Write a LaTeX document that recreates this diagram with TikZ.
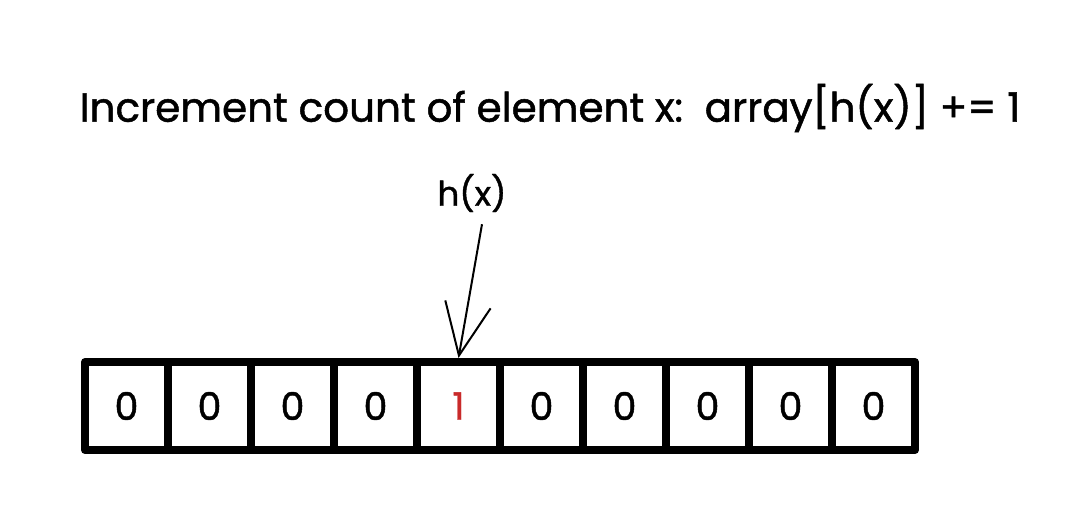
\documentclass[tikz,border=0pt]{standalone}
\usepackage{fontspec}
\setmainfont{Poppins}[FakeBold=1.2]
\usetikzlibrary{arrows.meta,positioning}
\definecolor{cellred}{HTML}{C92A2A}

\begin{document}
\begin{tikzpicture}[x=1pt,y=-1pt]
\tikzset{
  cellnode/.style={draw,line width=8pt,line join=round,minimum width=83pt,minimum height=88pt,inner sep=0pt,font=\fontsize{38}{42}\selectfont},
  labelnode/.style={inner sep=0pt,font=\fontsize{34}{40}\selectfont},
  titlenode/.style={inner sep=0pt,font=\fontsize{40.5}{46}\selectfont},
  pointer/.style={-{Straight Barb[length=52pt,width=46pt,line width=2pt]},line width=2pt}
}
\useasboundingbox[fill=white] (0,0) rectangle (1068,524);
\node[titlenode] (n_title) at (550,108) {Increment count of element x:\ \ array[h(x)] += 1};
\node[labelnode] (n_hx) at (472,193) {h(x)};
\node[cellnode] (n_c0) at (126.5,406) {0};
\node[cellnode] (n_c1) at (209.5,406) {0};
\node[cellnode] (n_c2) at (292.5,406) {0};
\node[cellnode] (n_c3) at (375.5,406) {0};
\node[cellnode,text=cellred] (n_c4) at (458.5,406) {1};
\node[cellnode] (n_c5) at (541.5,406) {0};
\node[cellnode] (n_c6) at (624.5,406) {0};
\node[cellnode] (n_c7) at (707.5,406) {0};
\node[cellnode] (n_c8) at (790.5,406) {0};
\node[cellnode] (n_c9) at (873.5,406) {0};
\draw[pointer] ([xshift=10pt,yshift=-12pt]n_hx.south) -- (n_c4.north);
\end{tikzpicture}
\end{document}
